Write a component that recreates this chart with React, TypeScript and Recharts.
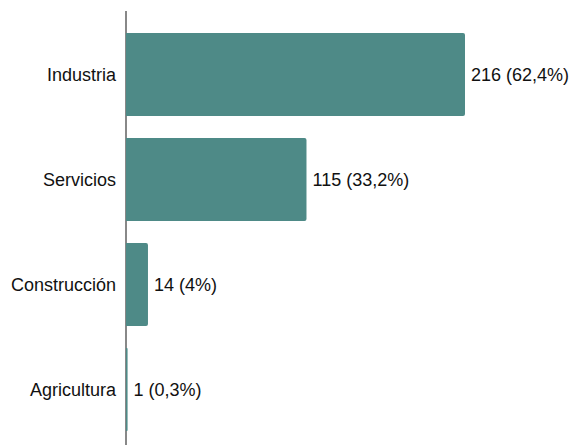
import { BarChart, Bar, XAxis, YAxis, LabelList } from 'recharts'

const sectors = ['Industria', 'Servicios', 'Construcción', 'Agricultura']
const counts = [216, 115, 14, 1]
const shares = ['62,4%', '33,2%', '4%', '0,3%']

const data = sectors.map((sector, i) => ({
  sector,
  count: counts[i],
  label: `${counts[i]} (${shares[i]})`,
}))

const font = 'Arial, "Liberation Sans", sans-serif'

export default function App() {
  return (
    <div style={{ width: 577, height: 445 }}>
      <style>{'body{margin:0}'}</style>
      <BarChart
        width={577}
        height={445}
        data={data}
        layout="vertical"
        margin={{ top: 11, right: 112, bottom: 0, left: 0 }}
        barCategoryGap={11}
      >
        <XAxis type="number" domain={[0, 216]} hide />
        <YAxis
          type="category"
          dataKey="sector"
          width={126}
          padding={{ top: 11, bottom: 3 }}
          axisLine={{ stroke: '#888888', strokeWidth: 2 }}
          tickLine={false}
          tickMargin={4}
          tick={{ fontSize: 18, fill: '#111111', fontFamily: font }}
        />
        <Bar
          dataKey="count"
          fill="#4e8a87"
          radius={[0, 2, 2, 0]}
          isAnimationActive={false}
          {...({ zIndex: 700 } as any)}
        >
          <LabelList
            dataKey="label"
            position="right"
            offset={6}
            style={{ fontSize: 18, fill: '#111111', fontFamily: font }}
          />
        </Bar>
      </BarChart>
    </div>
  )
}
